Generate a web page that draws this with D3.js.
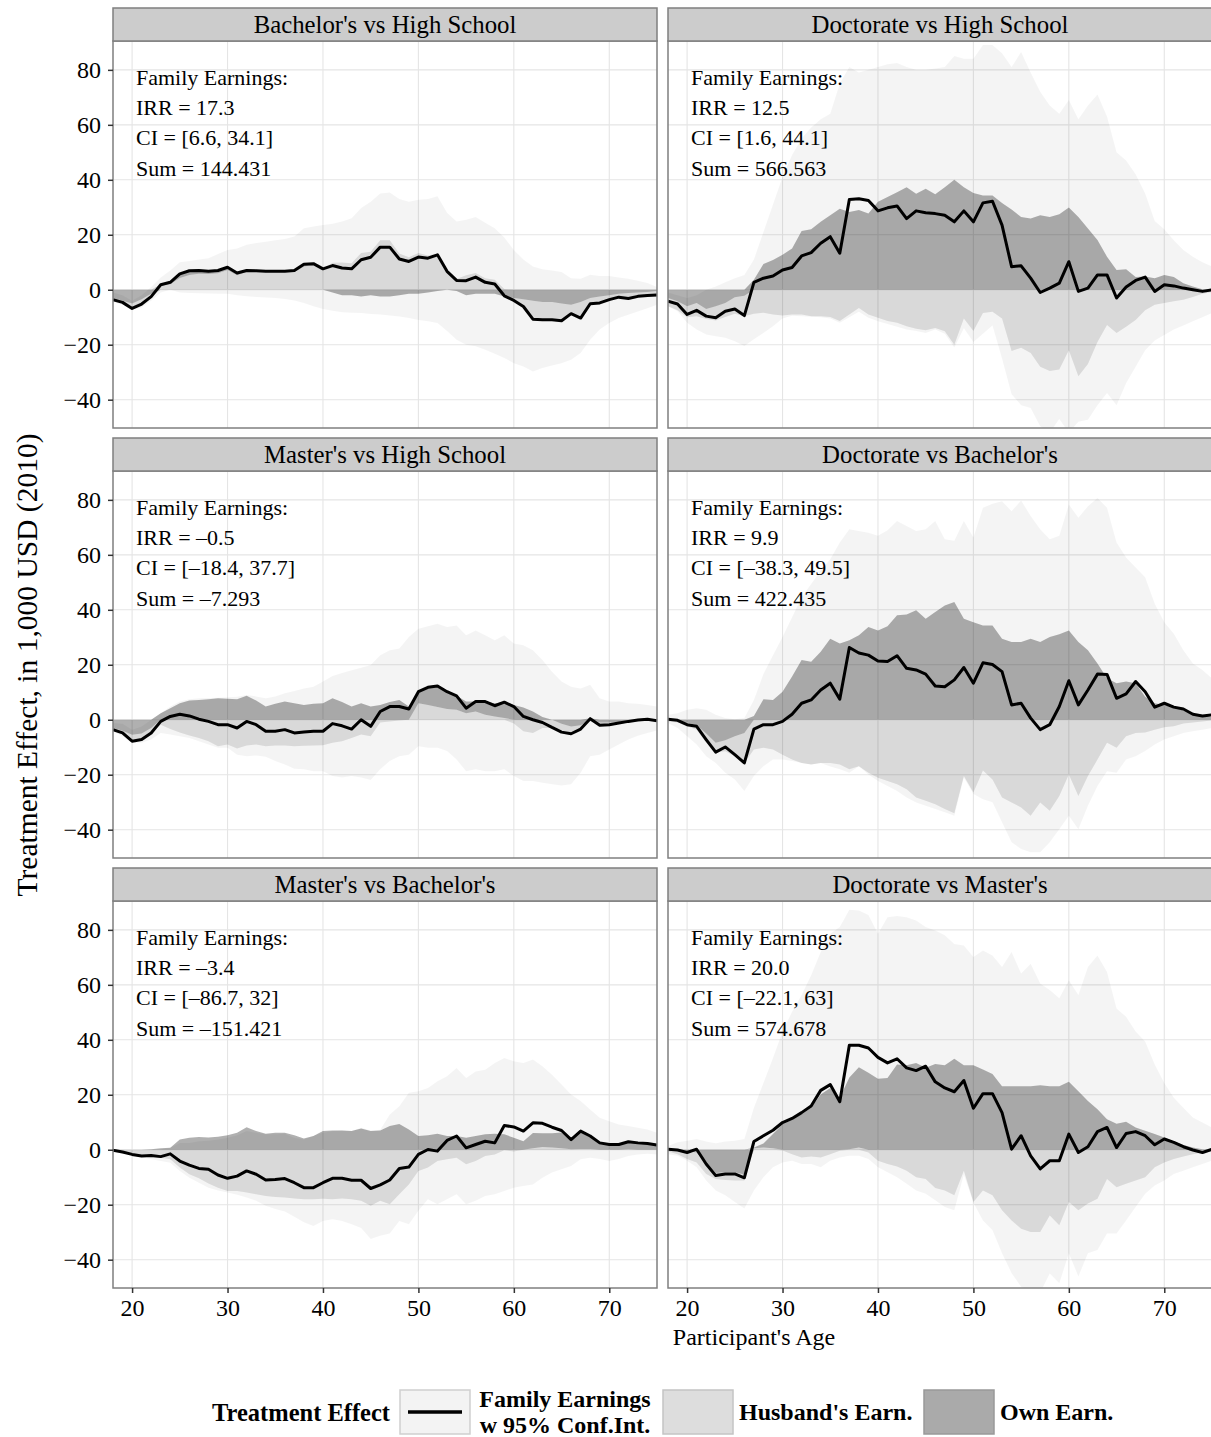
<!DOCTYPE html>
<html>
<head>
<meta charset="utf-8">
<script src="https://cdnjs.cloudflare.com/ajax/libs/d3/7.8.5/d3.min.js"></script>
<style>
  body { margin: 0; background: #fff; }
  svg { display: block; }
  text { font-family: "Liberation Serif", "Times New Roman", Times, serif; }
</style>
</head>
<body>
<svg id="chart" width="1211" height="1437"></svg>
<script>
// ---------------- DATA ----------------
const ages = [18,19,20,21,22,23,24,25,26,27,28,29,30,31,32,33,34,35,36,37,38,39,40,41,42,43,44,45,46,47,
              48,49,50,51,52,53,54,55,56,57,58,59,60,61,62,63,64,65,66,67,68,69,70,71,72,73,74,75];

const panelTitles = ["Bachelor's vs High School", "Doctorate vs High School",
                     "Master's vs High School", "Doctorate vs Bachelor's",
                     "Master's vs Bachelor's", "Doctorate vs Master's"];

const annotations = [
  ["Family Earnings:", "IRR = 17.3", "CI = [6.6, 34.1]", "Sum = 144.431"],
  ["Family Earnings:", "IRR = 12.5", "CI = [1.6, 44.1]", "Sum = 566.563"],
  ["Family Earnings:", "IRR = \u20130.5", "CI = [\u201318.4, 37.7]", "Sum = \u20137.293"],
  ["Family Earnings:", "IRR = 9.9", "CI = [\u201338.3, 49.5]", "Sum = 422.435"],
  ["Family Earnings:", "IRR = \u20133.4", "CI = [\u201386.7, 32]", "Sum = \u2013151.421"],
  ["Family Earnings:", "IRR = 20.0", "CI = [\u201322.1, 63]", "Sum = 574.678"]
];

const yTicks = [-40, -20, 0, 20, 40, 60, 80];
const xTicks = [20, 30, 40, 50, 60, 70];

const legendTitle = "Treatment Effect";
const legendLabels = [["Family Earnings", "w 95% Conf.Int."], ["Husband's Earn."], ["Own Earn."]];
const yTitle = "Treatment Effect, in 1,000 USD (2010)";
const xTitle = "Participant's Age";

// Panel 1: Bachelor's vs High School
const fam1 = [-3.6,-4.6,-6.8,-5.2,-2.5,1.8,2.7,5.8,6.9,7.0, 6.7,7.0,8.2,6.1,7.0,6.9,6.7,6.7,6.7,7.0,
  9.3,9.5,7.6,8.8,7.9,7.6,10.9,11.8,15.5,15.5, 11.2,10.3,11.9,11.5,12.7,6.7,3.4,3.3,4.6,2.7,
  2.1,-2.2,-3.9,-6.1,-10.7,-10.9,-10.9,-11.3,-8.7,-10.3, -5.1,-4.8,-3.6,-2.7,-3.2,-2.4,-2.1,-1.9];
const ciHi1 = [-1,-2,-4,-2,1,4.5,7,10,10.5,11, 11.5,13,14.5,15,16.4,17,17.5,18,18.5,19.4,
  22.4,23,23.6,24,24.8,26,29.7,32,35,35.4, 33,32,32.7,33,34,28,24.8,25.5,26.5,24.4,
  22.4,19,14.5,11,8.5,7.5,7,6.5,4.2,4, 5.5,5,5,4.5,4,3.3,2.5,1];
const ciLo1 = [-4.5,-5.5,-7.5,-6.5,-4,-1,0,-1,-1.2,-1.3, -1.4,-1.5,-1.5,-2,-2.4,-2.6,-2.8,-3,-3.4,-3.9,
  -4.8,-6,-7,-7.6,-8.2,-8.4,-8.5,-8.8,-9,-9.4, -9.7,-10.3,-11,-11.5,-12.1,-15,-18.2,-20,-20.6,-21.8,
  -23.3,-24.8,-26.7,-27.9,-29.7,-28.5,-27.6,-26.7,-25.5,-23, -18.2,-14.5,-12.1,-10.3,-9.1,-7.9,-6.7,-5.5];
const own1 = [-3,-4,-5,-3.5,-1.5,0.3,0.8,1.5,1.5,1.2, 1,1,1,0.8,0.5,0.3,0,0,0,0.5,
  0.8,0.5,0,-1,-2,-2,-2.5,-2,-2.5,-2.5, -2,-1.5,-1.5,-1,-0.5,0.5,-0.5,-2,-1.5,-1.5,
  -1.5,-2.5,-3,-3.5,-4,-4.5,-4.5,-5,-5.5,-4.5, -3,-2.5,-2,-1.5,-1.2,-1,-0.8,-0.5];
const hus1 = [-0.6,-0.6,-1.8,-1.7,-1,1.5,2,4.3,5.4,5.8, 5.7,6,7.2,5.3,6.5,6.6,6.7,6.7,6.7,6.5,
  8.5,9,7.6,9.8,9.9,9.6,13.4,13.8,18,18, 13.2,11.8,13.4,12.5,13.2,6.2,3.9,5.3,6.1,4.2,
  3.6,0.3,-0.9,-2.6,-6.7,-6.4,-6.4,-6.3,-3.2,-5.8, -2.1,-2.3,-1.6,-1.2,-2,-1.4,-1.3,-1.4];

// Panel 2: Doctorate vs High School
const fam2 = [-4.2,-5.2,-9,-7.5,-9.6,-10.2,-7.8,-7,-9.4,2.7, 4.2,5,7.2,8.1,12.3,13.5,16.9,19.3,13.3,32.8,
  33.1,32.5,28.7,29.8,30.5,25.9,28.7,28,27.7,27.1, 24.7,28.7,24.7,31.6,32.2,23.5,8.4,8.7,4.2,-1,
  0.6,2.4,10.2,-0.6,0.6,5.4,5.4,-3,1,3.4, 4.6,-0.6,1.8,1.4,0.6,0,-0.6,0];
const ciHi2 = [-1,-2,-3,-2,0,1.2,2.7,4.2,5.4,11, 21,31,41,49,55,59,62,64,75,81,
  79,80,81,82,82.5,81,80,80,80.5,81, 85,84,84,89,89,86,81,86.5,79,72,
  67,64,69,62,67,71,63,50,47,42, 35,25,22,18,14.5,12,10,8.5];
const ciLo2 = [-6,-7.8,-12,-14.5,-16.3,-16.9,-17.5,-18.7,-20.5,-18, -15.7,-13.3,-10.5,-9.5,-9.6,-9.8,-10,-10.5,-12,-10,
  -8,-10.2,-11.5,-12.5,-13.5,-14.5,-15,-15.7,-14.5,-16, -21,-14,-19,-16,-13,-25,-38,-42,-43,-49.7,
  -52,-47,-52,-48,-47.3,-42,-37.6,-42,-34,-28, -22,-18.5,-16.5,-14.5,-13,-11.5,-10,-8.5];
const own2 = [-3,-4.2,-6,-4.8,-7,-6,-4.8,-2.7,-2.2,3.6, 9.4,10.8,12.7,15,21.4,22,24.7,27.1,29.5,28.3,
  29,27.7,32,33.7,35.5,37.3,34.9,36.7,34.7,37.3, 40,37.3,35.2,34.3,34.3,31.6,29.2,26.5,25.9,27.1,
  26.5,27.5,29.9,26.5,22.3,18.1,12,7.2,7.5,4.6, 4.8,4.2,5.4,4.6,2.4,1.2,0.2,0];
const hus2 = [-3,-3.3,-4,-4.8,-3.6,-5.2,-5.1,-6,-7.4,-8.7, -8.4,-9,-9.4,-9,-9,-9.6,-9.6,-9.9,-11.4,-9,
  -6.6,-9,-10.2,-11.4,-12,-13.3,-14.2,-14.7,-13.9,-15.1, -20,-10.5,-15,-8.5,-8,-10.5,-22.3,-21.1,-23,-28,
  -29.6,-29,-22,-31.5,-27,-19,-12.8,-15.7,-13.5,-11, -7.5,-5.5,-4.8,-4.2,-3.6,-2.6,-1.5,-0.8];

// Panel 3: Master's vs High School
const fam3 = [-3.6,-4.8,-7.8,-7.2,-4.8,-0.6,1.2,2,1.4,0.2, -0.6,-1.8,-1.8,-3,-0.6,-1.8,-4.2,-4.2,-3.6,-4.8,
  -4.5,-4.2,-4.2,-1.4,-2.2,-3.4,0,-2.4,3,4.8, 4.8,3.9,10.2,11.8,12.3,10.2,8.7,4.2,6.6,6.6,
  5.1,6.4,4.8,1.2,0,-1,-2.8,-4.5,-5.1,-3.4, 0.4,-2,-1.8,-1.2,-0.6,-0.1,0.2,-0.4];
const ciHi3 = [-1.2,-1.5,-3.6,-2.5,0,2.4,4.8,6.6,7.5,7.8, 7.9,8,8.2,8.4,9,8.5,7.8,8.5,9.6,10.5,
  11.4,12,13.9,15.9,17,18,18.9,19.9,23.5,25.3, 25.9,30.1,33.1,34,34.9,33.7,34.3,30.7,32.5,30.7,
  28.9,30.7,27.7,27.1,25.3,21.7,17.5,13.9,12,11.4, 12.7,7.8,6.6,6.6,6,5.8,5.4,4.8];
const ciLo3 = [-4.2,-6,-8.4,-8.4,-7.2,-4.8,-5.4,-6,-6.6,-7.8, -9,-10.2,-10.2,-12.7,-13.3,-13,-13.5,-15,-16.3,-17.8,
  -18,-18.7,-18.7,-20.5,-21,-20.5,-21,-21.9,-18,-15, -13.3,-12.7,-9.6,-10.2,-10.2,-11.4,-14.5,-18.7,-18,-18.7,
  -18.7,-18,-20.5,-22.3,-22.3,-22.9,-23.5,-23.9,-23.5,-19.3, -13.3,-12.7,-10.8,-9,-7.2,-5.8,-4.8,-3.9];
const own3 = [-3,-4,-5.5,-5,-3,2.4,4.2,6,7,7.2, 7.5,7.8,7.6,7.5,8.7,7,4.8,5.8,6.6,6,
  5.4,5.8,6,7.8,6.5,4.8,6,4.8,5.4,6.5, 7.2,4.8,4.2,6.4,7.7,6.3,5.1,4.2,3.6,4.8,
  4.8,5.9,5.4,4.5,3,1,0,-1.5,-2.5,-2, 0.5,-1,-1,-0.8,-0.5,-0.2,0.1,-0.3];
const hus3 = [-0.8,-1,-2.3,-2.2,-1.8,-1.8,-3.4,-4.6,-5.7,-6.6, -7.8,-9.6,-9,-10.5,-9.4,-9,-9.6,-9.4,-9.4,-9.6,
  -9.5,-9.4,-9.3,-8.4,-7.8,-6.6,-5.4,-6,-1,-0.6, -0.3,0,6,5.4,4.6,3.9,3.6,2.4,3,1.8,
  1.2,0.6,-1.4,-4.2,-4.8,-3,-3,-2.4,-2.2,-1.2, -0.6,-0.6,-0.6,-0.5,-0.4,-0.3,-0.2,-0.2];

// Panel 4: Doctorate vs Bachelor's
const fam4 = [0.2,-0.2,-1.8,-2.4,-7.2,-11.8,-9.9,-12.7,-15.7,-3.4, -1.8,-1.8,-0.6,2,6,7.2,10.8,13.3,7.5,26.3,
  24.3,23.5,21.4,21.2,23.3,18.7,18.1,16.6,12.3,12, 14.5,19,13.3,20.7,20.1,17.5,5.4,6,0.6,-3.6,
  -1.8,4.8,14.2,5.4,10.8,16.6,16.5,7.8,9.4,13.9, 10.2,4.6,6,4.6,3.9,2,1.4,1.8];
const ciHi4 = [1.8,2.4,3.6,4.2,3.6,1.8,0.6,0.2,0.6,7.2, 16.6,23.5,30.1,37.3,44.6,49.4,54.2,58.4,64.5,69.3,
  68.7,68,66.9,68.9,72.3,70.5,68.7,69.3,72.3,65.7, 65.1,72.3,66.3,77.1,78.6,79.5,75.9,79.8,74.1,69.3,
  65.7,66.9,78.3,73.5,77.7,80.7,77.1,64.5,59,55.4, 51.8,42.2,35.5,31.3,25.3,20.5,18.1,15.1];
const ciLo4 = [-1.2,-3,-6,-9,-13.3,-15.7,-19.3,-21.7,-25.9,-20.5, -16.9,-14.5,-14.5,-15,-15.7,-16.3,-15.7,-17,-18,-19.3,
  -16.9,-19.9,-22.3,-24.1,-25.9,-28.3,-30.1,-31.3,-32.5,-33.7, -34.9,-21,-27,-28.9,-30,-37.3,-44.6,-47,-48.2,-48.2,
  -44.6,-39.8,-34.9,-39.8,-31.3,-24.1,-18.7,-19.3,-14.5,-13.3, -11.4,-9,-7.2,-6,-4.8,-4.2,-3.6,-3];
const own4 = [0,-0.3,-1,-2,-5,-8.4,-7.5,-6,-4.8,1.4, 7.5,7.2,10.2,15.7,21.7,21.1,24.7,29.5,27.7,28.9,
  30.7,33.7,32.5,34,38,38.3,39.8,36.7,39.2,41.6, 42.8,36.7,35.5,34.3,34.3,29.5,28.3,28.3,29.5,28.3,
  30.1,31.1,32.5,28.3,25.3,20.5,15.1,13.3,13.9,13.3, 8.4,6,5.4,4.6,3.4,1.8,1.2,1];
const hus4 = [-0.6,-0.7,-1.4,-1.6,-3.4,-3.4,-4,-7.3,-10.9,-10.8, -10.2,-10.8,-12.7,-14.5,-15.7,-16.3,-15.7,-15.7,-16.3,-18,
  -16.9,-19.3,-21.1,-22.3,-23.5,-25.3,-28.3,-29.5,-30.7,-32.5, -34,-20.5,-26.5,-18.5,-21.7,-28.3,-30.1,-31.9,-34.9,-30.1,
  -33.1,-27.7,-19.9,-27.7,-20.5,-14.5,-8.4,-10.2,-6,-4.8, -4.6,-3.6,-2.7,-2.4,-1.4,-1,-0.6,-0.2];

// Panel 5: Master's vs Bachelor's
const fam5 = [-0.2,-0.8,-1.7,-2.3,-2.1,-2.5,-1.5,-4.1,-5.6,-6.8, -7.1,-9.2,-10.4,-9.6,-7.7,-8.9,-11,-10.8,-10.5,-12,
  -13.8,-13.8,-12,-10.4,-10.4,-11.1,-11.1,-14.1,-12.8,-11, -6.8,-6.3,-1.7,0.1,-0.5,3.4,5,0.7,1.9,3.1,
  2.5,8.8,8.3,6.8,9.8,9.6,8.2,7,3.7,6.8, 5,2.5,1.9,1.9,2.9,2.5,2.3,1.7];
const ciHi5 = [0,0,0,0,0,0.2,0.7,2.5,2.5,3.1, 3.3,3.7,4.4,5.3,6.8,6.2,5.6,5.6,5.8,4.4,
  3.7,5,6.2,6.8,7,6.8,8,7,7.3,12.8, 15.8,20.7,21.3,22.5,24.9,26.7,29.7,26.1,28.5,29.1,
  31.6,33.4,32.2,31.6,32.8,30.4,27.3,23.7,20.1,17.7, 14.6,11.6,10.4,9.2,8.6,8,7.4,6.2];
const ciLo5 = [0,-1.1,-1.9,-2.7,-3.5,-4.1,-4.7,-7.7,-10.2,-12, -13.8,-14.8,-15.6,-16.4,-17.4,-18.6,-20.4,-21.6,-22.5,-24.4,
  -26.4,-27.7,-25.9,-25.3,-25.9,-27.1,-28.5,-32.5,-31.3,-30.5, -25.9,-27.1,-22.2,-18,-19.8,-18,-16.2,-19.8,-18.6,-16.8,
  -16.2,-15,-13.8,-13.2,-12.6,-10.2,-8.3,-7.1,-5.9,-3.5, -2.9,-3.4,-4.1,-3.4,-2.3,-1.7,-1.5,-1.7];
const own5 = [0,0,0,0,0.2,0.5,0.7,3.7,4.4,4.6, 4.5,4.7,5.3,6.2,8.2,6.8,5.8,6.2,6.2,5.3,
  4.1,5,6.8,7,7,6.8,7.7,6.8,7,8.6, 9.4,7.4,5,5.3,5.8,5,5,4.4,5,5.6,
  5.8,5.6,4.4,3.1,5.6,5,5.2,5.8,3.5,6.2, 4.4,2.5,1.9,1.9,2.5,2.4,2.2,1.7];
const hus5 = [-0.2,-0.8,-1.7,-2.3,-2.7,-2.9,-3.5,-6.5,-8.9,-10.4, -12.3,-13.8,-15,-15,-15.6,-16.2,-16.8,-17.2,-17.4,-17.7,
  -18,-18,-17.8,-18,-17.7,-18,-18.6,-20.4,-18.6,-19.8, -16.2,-12.6,-7.7,-6.5,-4.1,-3.5,-2.9,-5.3,-4.1,-2.3,
  -1.7,-0.2,-0.6,0,0.5,1,0.8,0.5,0.2,0.3, 0.3,0,0,0,0.2,0,0,0];

// Panel 6: Doctorate vs Master's
const fam6 = [0.2,-0.1,-1,0.2,-5.2,-9.4,-8.8,-8.8,-10.2,3, 5.1,7.1,9.9,11.4,13.5,15.9,21.6,23.7,17.5,38,
  38,37,33.6,31.6,33.1,29.8,28.8,30.4,24.7,22.5, 21.1,25.2,15.1,20.4,20.4,13.5,0.2,5.1,-2.2,-7,
  -4,-4,5.7,-1,1.1,6.6,8.1,0.8,5.9,6.6, 5.1,1.8,3.9,2.7,1.1,-0.1,-1,0.2];
const ciHi6 = [1.4,2.7,3.3,3.9,3,2.4,3,3.3,3.9,15.3, 24.3,33.4,43,50.2,56.3,63.5,71.9,78.6,81,87.3,
  87,85.4,78.6,84.6,85,84.6,83.4,81,79.8,78, 74.9,74.3,70.1,72.5,70.7,66.5,71.9,64.1,67.7,60.5,
  58.1,55.1,61.7,56.3,66.5,70.7,64.7,51.4,48.4,43, 39.4,31,24.3,18.9,15.3,11.7,9.9,8.1];
const ciLo6 = [-1.6,-2.2,-4,-6.4,-11.2,-14.8,-16.6,-19,-21.4,-14.8, -10,-6.4,-4.6,-4,-5.2,-5.2,-6.4,-4,-2.8,-2.2,
  -2.2,-3.4,-6.4,-8.2,-10,-12.4,-14.8,-16,-18.4,-20.8, -22,-9,-19.3,-25.7,-29.3,-37.7,-44.9,-49.8,-52,-52,
  -45,-48.6,-37.7,-46.1,-37.7,-36.5,-30.5,-30.5,-25.7,-20.8, -16,-13,-11.2,-8.8,-7.6,-6.4,-5.2,-4];
const own6 = [0,0,-0.5,-1,-5,-8.5,-8.2,-8.2,-9,0.3, 1.5,5.2,9.3,11.1,12.9,15.3,20.1,22.5,18.9,26.1,
  29.2,28,25.8,26.1,31,30.7,31.6,29.8,31.2,30.7, 33.1,30.7,30.7,29.2,27.6,23.1,23.1,23.1,23.1,23.5,
  23.1,23.1,24.7,21.3,17.7,14.7,11.1,9.5,10.2,8.1, 6.9,5.7,4.5,3,1.7,0.8,0.2,0];
const hus6 = [-0.6,-1.6,-2.9,-3.6,-3.8,-2.1,-2.8,-3,-2.2,0.5, 0.8,0.5,-0.3,-1.6,-2.8,-2.5,-2.8,-1.6,-0.4,0.2,
  0.8,-1,-4,-5.2,-6.1,-7.6,-10,-10.6,-13.9,-14.8, -16.6,-7.6,-19,-14.8,-16.6,-22,-25.7,-28.7,-29.9,-29.9,
  -23.9,-27.5,-19,-22,-19.6,-17.8,-10.6,-13.6,-12.4,-11.2, -10,-6.4,-4.6,-3.4,-2.5,-1.6,-1,-0.6];

const panelData = [
  {fam: fam1, ciLo: ciLo1, ciHi: ciHi1, own: own1, hus: hus1},
  {fam: fam2, ciLo: ciLo2, ciHi: ciHi2, own: own2, hus: hus2},
  {fam: fam3, ciLo: ciLo3, ciHi: ciHi3, own: own3, hus: hus3},
  {fam: fam4, ciLo: ciLo4, ciHi: ciHi4, own: own4, hus: hus4},
  {fam: fam5, ciLo: ciLo5, ciHi: ciHi5, own: own5, hus: hus5},
  {fam: fam6, ciLo: ciLo6, ciHi: ciHi6, own: own6, hus: hus6}
];

// ---------------- LAYOUT ----------------
const svg = d3.select("#chart");
const W = 544, H = 387;
const colX = [113, 668];
const rowY = [41, 471, 901];
const stripH = 33;
const FONT = '"Liberation Serif", "Times New Roman", serif';

const x = d3.scaleLinear().domain([18, 75]).range([0, W]);
const y = d3.scaleLinear().domain([-50.3, 90.5]).range([H, 0]);

const CI_OPACITY = 0.045, HUS_OPACITY = 0.11, OWN_OPACITY = 0.31;
const minusFmt = d => d < 0 ? "\u2212" + Math.abs(d) : String(d);

panelData.forEach((pd, i) => {
  const col = i % 2, row = Math.floor(i / 2);
  const g = svg.append("g").attr("transform", `translate(${colX[col]},${rowY[row]})`);
  const clipId = "clip" + i;
  g.append("clipPath").attr("id", clipId).append("rect").attr("width", W).attr("height", H);

  // grid
  const grid = g.append("g");
  grid.selectAll("line.gy").data(yTicks).join("line")
    .attr("x1", 0).attr("x2", W).attr("y1", d => y(d)).attr("y2", d => y(d))
    .attr("stroke", "#E5E5E5").attr("stroke-width", 1.1);
  grid.selectAll("line.gx").data(xTicks).join("line")
    .attr("y1", 0).attr("y2", H).attr("x1", d => x(d)).attr("x2", d => x(d))
    .attr("stroke", "#E5E5E5").attr("stroke-width", 1.1);

  const rows = ages.map((a, k) => {
    const o = pd.own[k], h = pd.hus[k];
    const hp = Math.max(h, 0), op = Math.max(o, 0), on = Math.min(o, 0), hn = Math.min(h, 0);
    return {age: a, fam: pd.fam[k], lo: pd.ciLo[k], hi: pd.ciHi[k], hp, op, on, hn};
  });

  const data = g.append("g").attr("clip-path", `url(#${clipId})`);
  const area = (f0, f1) => d3.area().x(d => x(d.age)).y0(d => y(f0(d))).y1(d => y(f1(d)));

  data.append("path").datum(rows).attr("d", area(d => d.lo, d => d.hi))
    .attr("fill", "#000").attr("fill-opacity", CI_OPACITY);
  // husband: positive part from 0, negative part stacked below own's negative part
  data.append("path").datum(rows).attr("d", area(d => 0, d => d.hp))
    .attr("fill", "#000").attr("fill-opacity", HUS_OPACITY);
  data.append("path").datum(rows).attr("d", area(d => d.on, d => d.on + d.hn))
    .attr("fill", "#000").attr("fill-opacity", HUS_OPACITY);
  // own: positive part stacked on husband's positive part, negative part from 0
  data.append("path").datum(rows).attr("d", area(d => d.hp, d => d.hp + d.op))
    .attr("fill", "#000").attr("fill-opacity", OWN_OPACITY);
  data.append("path").datum(rows).attr("d", area(d => 0, d => d.on))
    .attr("fill", "#000").attr("fill-opacity", OWN_OPACITY);

  data.append("path").datum(rows)
    .attr("d", d3.line().x(d => x(d.age)).y(d => y(d.fam)))
    .attr("fill", "none").attr("stroke", "#000").attr("stroke-width", 3).attr("stroke-linejoin", "round");

  // annotation
  const ann = g.append("g").attr("transform", "translate(23,0)");
  annotations[i].forEach((t, k) => {
    ann.append("text").attr("x", 0).attr("y", 44 + k * 30.2)
      .attr("font-size", 22).attr("fill", "#000").text(t);
  });

  // border
  g.append("rect").attr("width", W).attr("height", H)
    .attr("fill", "none").attr("stroke", "#7F7F7F").attr("stroke-width", 1.5);

  // strip
  g.append("rect").attr("x", 0).attr("y", -stripH).attr("width", W).attr("height", stripH)
    .attr("fill", "#CCCCCC").attr("stroke", "#7F7F7F").attr("stroke-width", 1.5);
  g.append("text").attr("x", W / 2).attr("y", -stripH / 2).attr("dy", "0.35em")
    .attr("text-anchor", "middle").attr("font-size", 24.8).attr("fill", "#000").text(panelTitles[i]);

  // y axis
  if (col === 0) {
    const ax = g.append("g").call(d3.axisLeft(y).tickValues(yTicks).tickSize(5).tickPadding(7).tickFormat(minusFmt));
    ax.select(".domain").remove();
    ax.selectAll(".tick line").attr("stroke", "#333").attr("stroke-width", 1.5);
    ax.selectAll(".tick text").attr("font-size", 24).attr("fill", "#000").style("font-family", FONT);
  }
  // x axis
  if (row === 2) {
    const ax = g.append("g").attr("transform", `translate(0,${H})`)
      .call(d3.axisBottom(x).tickValues(xTicks).tickSize(5).tickPadding(6));
    ax.select(".domain").remove();
    ax.selectAll(".tick line").attr("stroke", "#333").attr("stroke-width", 1.5);
    ax.selectAll(".tick text").attr("font-size", 24).attr("fill", "#000").style("font-family", FONT);
  }
});

// axis titles
svg.append("text").attr("transform", "translate(37,665) rotate(-90)")
  .attr("text-anchor", "middle").attr("font-size", 29.5).attr("fill", "#000").text(yTitle);
svg.append("text").attr("x", 754).attr("y", 1345)
  .attr("text-anchor", "middle").attr("font-size", 24).attr("fill", "#000").text(xTitle);

// legend
const lg = svg.append("g").attr("transform", "translate(0,1412)");
lg.append("text").attr("x", 212).attr("y", 0).attr("dy", "0.35em")
  .attr("font-size", 24.5).attr("font-weight", "bold").text(legendTitle);
const keys = [
  {x: 400, fill: "#F3F3F3", stroke: "#CFCFCF", line: true, tx: 565, anchor: "middle"},
  {x: 663, fill: "#DDDDDD", stroke: "#C4C4C4", line: false, tx: 739, anchor: "start"},
  {x: 924, fill: "#AAAAAA", stroke: "#999999", line: false, tx: 1000, anchor: "start"}
];
keys.forEach((k, i) => {
  lg.append("rect").attr("x", k.x).attr("y", -22).attr("width", 70).attr("height", 44)
    .attr("fill", k.fill).attr("stroke", k.stroke).attr("stroke-width", 1.5);
  if (k.line) {
    lg.append("line").attr("x1", k.x + 8).attr("x2", k.x + 62).attr("y1", 0).attr("y2", 0)
      .attr("stroke", "#000").attr("stroke-width", 3.5);
  }
  const lines = legendLabels[i];
  lines.forEach((t, j) => {
    lg.append("text").attr("x", k.tx).attr("y", (j - (lines.length - 1) / 2) * 26).attr("dy", "0.35em")
      .attr("text-anchor", k.anchor).attr("font-size", 24).attr("font-weight", "bold").text(t);
  });
});
</script>
</body>
</html>
